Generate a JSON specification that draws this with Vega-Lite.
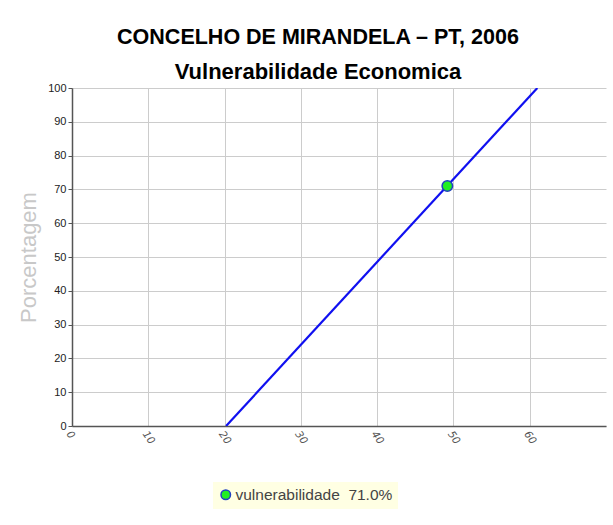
{
  "$schema": "https://vega.github.io/schema/vega-lite/v6.json",
  "autosize": {"type": "none"},
  "width": 534,
  "height": 338,
  "padding": {"left": 72, "top": 88, "right": 7, "bottom": 99},
  "background": "white",
  "title": {
    "text": "CONCELHO DE MIRANDELA – PT, 2006",
    "subtitle": "Vulnerabilidade Economica",
    "font": "Liberation Sans",
    "fontSize": 21.5,
    "fontWeight": "bold",
    "color": "#000000",
    "subtitleFont": "Liberation Sans",
    "subtitleFontSize": 22,
    "subtitleFontWeight": "bold",
    "subtitleColor": "#000000",
    "subtitlePadding": 14,
    "anchor": "middle",
    "dx": -21,
    "offset": -1
  },
  "datasets": {
    "linha": [
      {"x": 20.2, "y": 0},
      {"x": 61.0, "y": 100}
    ],
    "ponto": [
      {"x": 49.2, "y": 71.0, "serie": "vulnerabilidade\u00a0\u00a071.0%"}
    ]
  },
  "encoding": {
    "x": {
      "field": "x", "type": "quantitative",
      "scale": {"domain": [0, 70], "nice": false, "zero": false},
      "axis": {
        "values": [0, 10, 20, 30, 40, 50, 60],
        "title": null,
        "labelAngle": 55,
        "labelAlign": "left",
        "labelBaseline": "top",
        "labelFont": "DejaVu Sans",
        "labelFontSize": 10.5,
        "labelFontStyle": "italic",
        "labelColor": "#555555",
        "labelPadding": 3,
        "labelOverlap": false,
        "domainColor": "#555555",
        "domainWidth": 1.5,
        "tickSize": 0,
        "grid": true,
        "gridColor": "#cccccc",
        "gridWidth": 1
      }
    },
    "y": {
      "field": "y", "type": "quantitative",
      "scale": {"domain": [0, 100], "nice": false},
      "axis": {
        "values": [0, 10, 20, 30, 40, 50, 60, 70, 80, 90, 100],
        "title": "Porcentagem",
        "titleFont": "Liberation Sans",
        "titleFontSize": 22,
        "titleFontWeight": "normal",
        "titleColor": "#c8c8c8",
        "titlePadding": 7,
        "labelFont": "Liberation Sans",
        "labelFontSize": 11,
        "labelColor": "#222222",
        "labelPadding": 2,
        "labelOverlap": false,
        "labelFlush": false,
        "domainColor": "#555555",
        "domainWidth": 1.5,
        "tickColor": "#555555",
        "tickSize": 4,
        "grid": true,
        "gridColor": "#cccccc",
        "gridWidth": 1
      }
    }
  },
  "layer": [
    {
      "data": {"name": "linha"},
      "mark": {"type": "line", "color": "#1010f0", "strokeWidth": 2.2, "clip": true}
    },
    {
      "data": {"name": "ponto"},
      "mark": {"type": "point", "filled": true, "size": 110, "stroke": "#2040c0", "strokeWidth": 1.5, "opacity": 1},
      "encoding": {
        "fill": {
          "field": "serie", "type": "nominal",
          "scale": {"range": ["#22ee22"]},
          "legend": {
            "title": null,
            "orient": "none",
            "legendX": 141,
            "legendY": 394,
            "fillColor": "#ffffe3",
            "padding": 5,
            "symbolType": "circle",
            "symbolSize": 90,
            "symbolStrokeColor": "#2040c0",
            "symbolStrokeWidth": 1.5,
            "labelFont": "Liberation Sans",
            "labelFontSize": 15.5,
            "labelColor": "#444444",
            "labelOffset": 2,
            "labelLimit": 400
          }
        }
      }
    }
  ],
  "config": {
    "view": {"stroke": null},
    "axis": {"ticks": true}
  }
}
